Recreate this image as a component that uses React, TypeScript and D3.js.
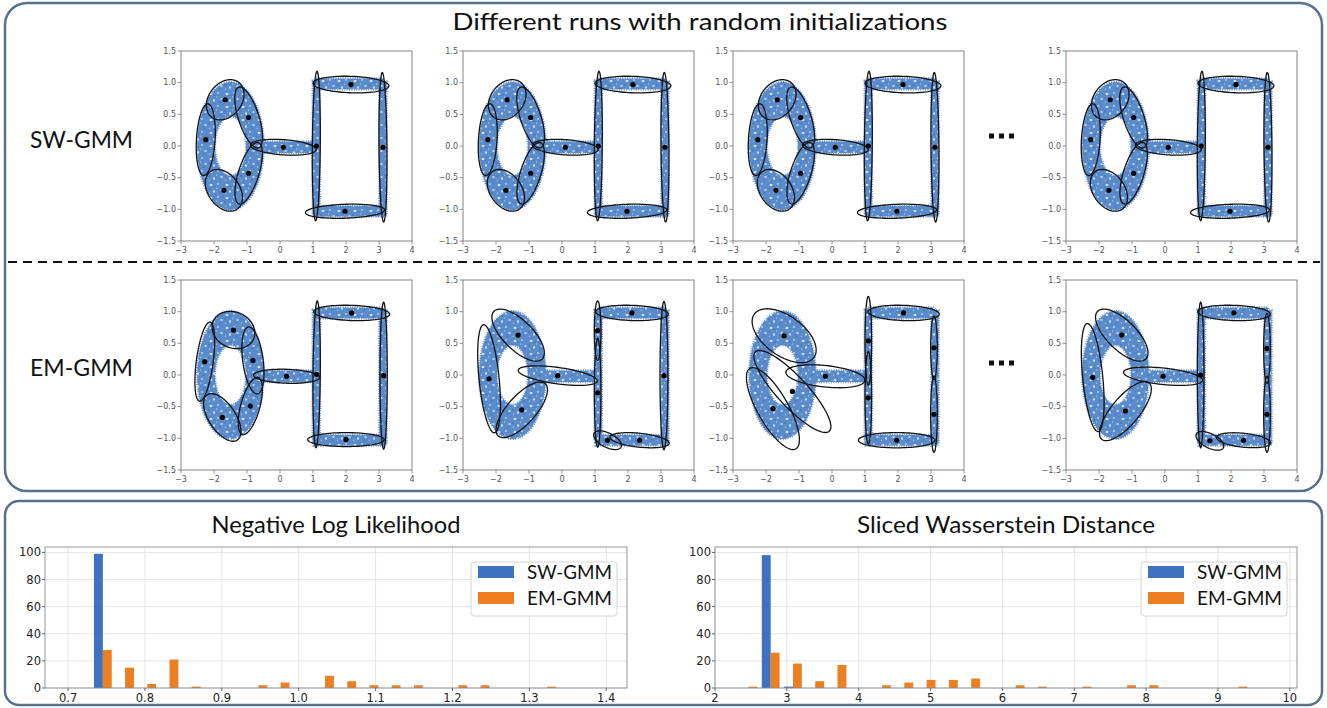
import React from "react";
import * as d3 from "d3";

const W = 1327;
const H = 708;

// scatter axes
const xTicks = [-3, -2, -1, 0, 1, 2, 3, 4];
const yTicks = [-1.5, -1.0, -0.5, 0.0, 0.5, 1.0, 1.5];

// the sample cloud, drawn as bands (data units)
const ring = { cx: -1.5, cy: 0, r: 0.74, half: 0.27 };
// [x1, y1, x2, y2, half width]
const strokes = [
  [-0.75, -0.02, 1.05, -0.02, 0.09],
  [1.1, -1.08, 1.1, 1.03, 0.11],
  [3.12, -1.1, 3.12, 1.02, 0.11],
  [1.1, 0.98, 3.12, 0.98, 0.085],
  [1.02, -1.03, 3.12, -1.03, 0.085],
];

// fitted components: [cx, cy, semi-major, semi-minor, angle deg]
const swRun = [
  [-1.66, 0.73, 0.58, 0.3, 12],
  [-0.95, 0.45, 0.58, 0.27, -51],
  [-2.25, 0.1, 0.57, 0.28, 82],
  [-0.95, -0.43, 0.58, 0.27, 52],
  [-1.7, -0.7, 0.58, 0.3, -16],
  [0.1, -0.02, 1.0, 0.12, -2],
  [2.15, 0.97, 1.15, 0.13, -1],
  [1.97, -1.03, 1.2, 0.11, 1],
  [1.1, 0.0, 1.18, 0.12, 89],
  [3.12, -0.02, 1.18, 0.12, 91],
];
const emRun1 = [
  [-1.41, 0.71, 0.65, 0.29, -5],
  [-2.28, 0.21, 0.645, 0.25, 74],
  [-0.82, 0.23, 0.55, 0.3, -71],
  [-0.9, -0.49, 0.52, 0.26, 55],
  [-1.75, -0.67, 0.62, 0.28, -27],
  [0.2, -0.02, 1.0, 0.11, -1],
  [2.17, 0.98, 1.15, 0.12, -1],
  [2.0, -1.02, 1.16, 0.11, 0],
  [1.11, 0.01, 1.16, 0.11, 89],
  [3.14, -0.01, 1.16, 0.11, 90],
];
const emRun2 = [
  [-1.33, 0.63, 0.85, 0.28, -22],
  [-2.21, -0.06, 0.87, 0.3, -78],
  [-1.22, -0.55, 0.85, 0.28, 25],
  [-0.13, -0.01, 1.2, 0.13, -4],
  [2.12, 0.98, 1.1, 0.12, -1],
  [1.08, 0.7, 0.47, 0.1, 90],
  [1.08, -0.28, 0.86, 0.1, 90],
  [3.09, -0.01, 1.17, 0.12, 90],
  [1.38, -1.03, 0.43, 0.12, -12],
  [2.35, -1.03, 0.9, 0.11, -3],
];
const emRun3 = [
  [-1.45, 0.62, 1.0, 0.35, -15],
  [-1.2, -0.26, 1.3, 0.3, -27],
  [-1.79, -0.53, 0.97, 0.35, -37],
  [-0.2, -0.02, 1.2, 0.17, -3],
  [2.17, 0.98, 1.08, 0.12, -1],
  [1.96, -1.03, 1.16, 0.12, 0],
  [1.1, 0.54, 0.7, 0.1, 90],
  [1.1, -0.36, 0.73, 0.1, 90],
  [3.09, 0.43, 0.5, 0.1, 90],
  [3.09, -0.62, 0.6, 0.1, 90],
];
const emRun4 = [
  [-1.31, 0.63, 0.85, 0.28, -22],
  [-2.19, -0.04, 0.87, 0.3, -78],
  [-1.2, -0.57, 0.87, 0.28, 27],
  [-0.06, -0.02, 1.2, 0.13, -3],
  [2.09, 0.98, 1.1, 0.12, -1],
  [1.08, 0.0, 1.15, 0.1, 90],
  [3.09, 0.42, 0.55, 0.1, 90],
  [3.09, -0.62, 0.6, 0.1, 90],
  [1.36, -1.04, 0.43, 0.12, -12],
  [2.38, -1.03, 0.82, 0.11, -3],
];

// histograms
const nllTicks = [0.7, 0.8, 0.9, 1.0, 1.1, 1.2, 1.3, 1.4];
const nllBinStart = 0.7308;
const nllBinWidth = 0.0289;
const nllSW = [99, 0, 0, 0, 0, 0, 0, 0, 0, 0, 0, 0, 0, 0, 0, 0, 0, 0, 0, 0, 0];
const nllEM = [28, 15, 3, 21, 1, 0, 0, 2, 4, 0, 9, 5, 2, 2, 2, 0, 2, 2, 0, 0, 1];

const swdTicks = [2, 3, 4, 5, 6, 7, 8, 9, 10];
const swdBinStart = 2.31;
const swdBinWidth = 0.31;
const swdSW = [0, 98, 1, 0, 0, 0, 0, 0, 0, 0, 0, 0, 0, 0, 0, 0, 0, 0, 0, 0, 0, 0, 0];
const swdEM = [1, 26, 18, 5, 17, 0, 2, 4, 6, 6, 7, 0, 2, 1, 0, 1, 0, 2, 2, 0, 0, 0, 1];
const countTicks = [0, 20, 40, 60, 80, 100];

const BLUE = "#3e71bf";
const ORANGE = "#ec7f22";
const BORDER = "#56708e";
const LABEL_FONT = "Lato, 'Open Sans', sans-serif";
const TICK_FONT = "'DejaVu Sans', sans-serif";

const panelLefts = [181, 463, 733, 1066];
const panelW = 231;
const panelH = 190;
const rowTops = [51, 280];

const minus = (s: string) => s.replace("-", "\u2212");

function ScatterPanel({ x0, y0, comps }: { x0: number; y0: number; comps: number[][] }) {
  const sx = d3.scaleLinear().domain([-3, 4]).range([x0, x0 + panelW]);
  const sy = d3.scaleLinear().domain([-1.5, 1.5]).range([y0 + panelH, y0]);
  const closed = d3.line().curve(d3.curveLinearClosed);
  const circ = (r: number) =>
    d3.range(0, 360, 3).map((t) => {
      const a = (t * Math.PI) / 180;
      return [sx(ring.cx + r * Math.cos(a)), sy(ring.cy + r * Math.sin(a))] as [number, number];
    });
  const ringPath = closed(circ(ring.r + ring.half))! + closed(circ(ring.r - ring.half).reverse())!;
  const rects = strokes.map(([x1, y1, x2, y2, h]) => {
    const vertical = x1 === x2;
    const xa = vertical ? x1 - h : Math.min(x1, x2);
    const xb = vertical ? x1 + h : Math.max(x1, x2);
    const ya = vertical ? Math.min(y1, y2) : y1 - h;
    const yb = vertical ? Math.max(y1, y2) : y1 + h;
    return { x: sx(xa), y: sy(yb), w: sx(xb) - sx(xa), h: sy(ya) - sy(yb) };
  });
  const ellipse = ([cx, cy, a, b, ang]: number[]) => {
    const th = (ang * Math.PI) / 180;
    return closed(
      d3.range(0, 360, 4).map((t) => {
        const r = (t * Math.PI) / 180;
        const u = a * Math.cos(r);
        const v = b * Math.sin(r);
        return [sx(cx + u * Math.cos(th) - v * Math.sin(th)), sy(cy + u * Math.sin(th) + v * Math.cos(th))] as [number, number];
      })
    );
  };
  const fmt = d3.format(".1f");
  return (
    <g>
      {/* fuzzy rim under the cloud */}
      <g fill="none" stroke="#4672b0" strokeWidth={2.4} strokeDasharray="1 1.4" opacity={0.75}>
        <path d={ringPath} />
        {rects.map((r, i) => (
          <rect key={i} x={r.x} y={r.y} width={r.w} height={r.h} />
        ))}
      </g>
      <g fill="url(#cloud)">
        <path d={ringPath} fillRule="evenodd" />
        {rects.map((r, i) => (
          <rect key={i} x={r.x} y={r.y} width={r.w} height={r.h} />
        ))}
      </g>
      <g fill="none" stroke="#111" strokeWidth={1.3}>
        {comps.map((c, i) => (
          <path key={i} d={ellipse(c)!} />
        ))}
      </g>
      <g fill="#000">
        {comps.map((c, i) => (
          <circle key={i} cx={sx(c[0])} cy={sy(c[1])} r={2.6} />
        ))}
      </g>
      <rect x={x0} y={y0} width={panelW} height={panelH} fill="none" stroke="#777" strokeWidth={0.9} />
      <g fontFamily={TICK_FONT} fontSize={8} fill="#555">
        {yTicks.map((t) => (
          <g key={t}>
            <line x1={x0 - 3.5} x2={x0} y1={sy(t)} y2={sy(t)} stroke="#777" strokeWidth={0.8} />
            <text x={x0 - 5} y={sy(t)} dy="0.34em" textAnchor="end">
              {minus(fmt(t))}
            </text>
          </g>
        ))}
        {xTicks.map((t) => (
          <g key={t}>
            <line x1={sx(t)} x2={sx(t)} y1={y0 + panelH} y2={y0 + panelH + 3.5} stroke="#777" strokeWidth={0.8} />
            <text x={sx(t)} y={y0 + panelH + 12} textAnchor="middle">
              {minus(String(t))}
            </text>
          </g>
        ))}
      </g>
    </g>
  );
}

function Hist(props: {
  x0: number;
  x1: number;
  domain: [number, number];
  ticks: number[];
  tickFmt: (v: number) => string;
  binStart: number;
  binWidth: number;
  sw: number[];
  em: number[];
  title: string;
  titleLen: number;
}) {
  const { x0, x1, domain, ticks, tickFmt, binStart, binWidth, sw, em, title, titleLen } = props;
  const y0 = 547;
  const y1 = 688;
  const sx = d3.scaleLinear().domain(domain).range([x0, x1]);
  const sy = d3.scaleLinear().domain([0, 104]).range([y1, y0]);
  const bar = (i: number, off: number) => sx(binStart + i * binWidth + off * binWidth);
  const lx = x1 - 156;
  return (
    <g>
      <text
        x={(x0 + x1) / 2}
        y={533}
        textAnchor="middle"
        fontFamily={LABEL_FONT}
        fontSize={23}
        fill="#111"
        textLength={titleLen}
        lengthAdjust="spacingAndGlyphs"
      >
        {title}
      </text>
      <g stroke="#dedede" strokeWidth={0.8}>
        {ticks.map((t) => (
          <line key={t} x1={sx(t)} x2={sx(t)} y1={y0} y2={y1} />
        ))}
        {countTicks.map((t) => (
          <line key={t} x1={x0} x2={x1} y1={sy(t)} y2={sy(t)} />
        ))}
      </g>
      {sw.map((v, i) =>
        v > 0 ? (
          <rect key={"s" + i} x={bar(i, 0.1)} width={bar(i, 0.5) - bar(i, 0.1)} y={sy(v)} height={y1 - sy(v)} fill={BLUE} />
        ) : null
      )}
      {em.map((v, i) =>
        v > 0 ? (
          <rect key={"e" + i} x={bar(i, 0.5)} width={bar(i, 0.9) - bar(i, 0.5)} y={sy(v)} height={y1 - sy(v)} fill={ORANGE} />
        ) : null
      )}
      <rect x={x0} y={y0} width={x1 - x0} height={y1 - y0} fill="none" stroke="#8a8a8a" strokeWidth={0.9} />
      <g fontFamily={TICK_FONT} fontSize={11.5} fill="#222">
        {countTicks.map((t) => (
          <g key={t}>
            <line x1={x0 - 3} x2={x0} y1={sy(t)} y2={sy(t)} stroke="#666" />
            <text x={x0 - 4} y={sy(t)} dy="0.35em" textAnchor="end">
              {t}
            </text>
          </g>
        ))}
        {ticks.map((t) => (
          <g key={t}>
            <line x1={sx(t)} x2={sx(t)} y1={y1} y2={y1 + 3} stroke="#666" />
            <text x={sx(t)} y={702} textAnchor="middle">
              {tickFmt(t)}
            </text>
          </g>
        ))}
      </g>
      <g>
        <rect x={lx} y={562} width={146} height={54} rx={3} fill="#fff" fillOpacity={0.85} stroke="#d4d4d4" />
        <rect x={lx + 7} y={566} width={36} height={12} fill={BLUE} />
        <rect x={lx + 7} y={592} width={36} height={12} fill={ORANGE} />
        <g fontFamily={LABEL_FONT} fontSize={19} fill="#111">
          <text x={lx + 56} y={579} textLength={85} lengthAdjust="spacingAndGlyphs">
            SW-GMM
          </text>
          <text x={lx + 56} y={605} textLength={85} lengthAdjust="spacingAndGlyphs">
            EM-GMM
          </text>
        </g>
      </g>
    </g>
  );
}

export default function App() {
  const topRuns = [swRun, swRun, swRun, swRun];
  const bottomRuns = [emRun1, emRun2, emRun3, emRun4];
  return (
    <svg
      width={W}
      height={H}
      viewBox={`0 0 ${W} ${H}`}
      style={{ position: "absolute", left: 0, top: 0, background: "#fff" }}
    >
      <defs>
        <pattern id="cloud" width={16} height={13} patternUnits="userSpaceOnUse">
          <rect width={16} height={13} fill="#5a8bcb" />
          <ellipse cx={3} cy={3} rx={1.5} ry={0.9} fill="#e4edf9" />
          <ellipse cx={10} cy={2} rx={0.8} ry={1.1} fill="#cfdff3" />
          <ellipse cx={13.5} cy={8} rx={1.3} ry={0.8} fill="#e8f0fa" />
          <ellipse cx={6} cy={9.5} rx={1} ry={1.3} fill="#d9e6f6" />
          <circle cx={1.5} cy={11.2} r={0.6} fill="#c4d7ef" />
          <circle cx={8.6} cy={6} r={0.5} fill="#eef4fc" />
          <path
            d="M5.4 3.6l1.2 1.2M6.6 3.6L5.4 4.8M11.5 10.4l1.2 1.2M12.7 10.4l-1.2 1.2M0.6 6.4l1.2 1.2M1.8 6.4L0.6 7.6"
            stroke="#36659f"
            strokeWidth={0.6}
          />
        </pattern>
      </defs>

      <rect x={5} y={3} width={1317} height={488} rx={22} fill="none" stroke={BORDER} strokeWidth={2.5} />
      <rect x={5} y={501} width={1317} height={204} rx={14} fill="none" stroke={BORDER} strokeWidth={2.5} />

      <text
        x={700}
        y={30}
        textAnchor="middle"
        fontFamily={LABEL_FONT}
        fontSize={24}
        fill="#111"
        textLength={495}
        lengthAdjust="spacingAndGlyphs"
      >
        Different runs with random initializations
      </text>
      <g fontFamily={LABEL_FONT} fontSize={23} fill="#111">
        <text x={30} y={148} textLength={103} lengthAdjust="spacingAndGlyphs">
          SW-GMM
        </text>
        <text x={30} y={376} textLength={103} lengthAdjust="spacingAndGlyphs">
          EM-GMM
        </text>
      </g>

      <line x1={8} x2={1320} y1={262} y2={262} stroke="#111" strokeWidth={2} strokeDasharray="9 6" />

      {topRuns.map((c, i) => (
        <ScatterPanel key={"t" + i} x0={panelLefts[i]} y0={rowTops[0]} comps={c} />
      ))}
      {bottomRuns.map((c, i) => (
        <ScatterPanel key={"b" + i} x0={panelLefts[i]} y0={rowTops[1]} comps={c} />
      ))}

      <g fill="#111">
        {[0, 1].map((r) =>
          [0, 1, 2].map((k) => <rect key={r + "-" + k} x={989 + k * 10} y={(r ? 363 : 136) - 2.5} width={5} height={5} />)
        )}
      </g>

      <Hist
        x0={45}
        x1={627}
        domain={[0.67, 1.427]}
        ticks={nllTicks}
        tickFmt={d3.format(".1f")}
        binStart={nllBinStart}
        binWidth={nllBinWidth}
        sw={nllSW}
        em={nllEM}
        title="Negative Log Likelihood"
        titleLen={249}
      />
      <Hist
        x0={715}
        x1={1297}
        domain={[2.0, 10.1]}
        ticks={swdTicks}
        tickFmt={d3.format("d")}
        binStart={swdBinStart}
        binWidth={swdBinWidth}
        sw={swdSW}
        em={swdEM}
        title="Sliced Wasserstein Distance"
        titleLen={298}
      />
    </svg>
  );
}
